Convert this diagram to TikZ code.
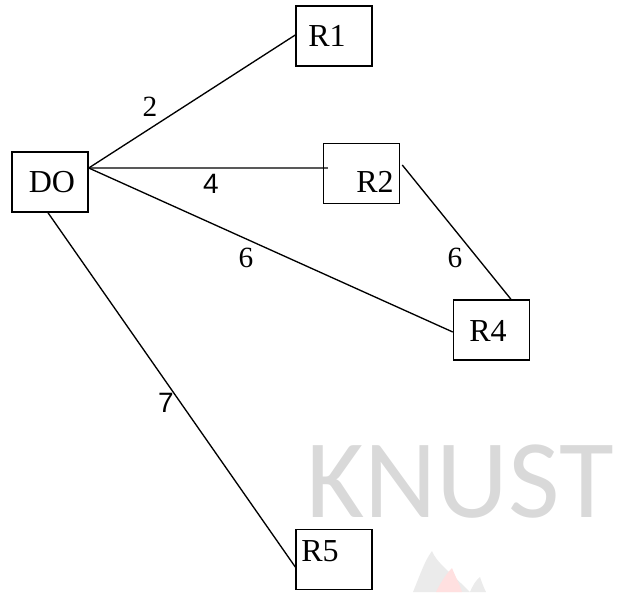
\documentclass[tikz,border=0pt]{standalone}
\usepackage{fontspec}
\setmainfont{Liberation Serif}
\newfontfamily\digitsans{Liberation Sans}
\newfontfamily\markfont{Carlito}
\begin{document}
\begin{tikzpicture}[x=0.75pt,y=-0.75pt,
  box/.style={draw,line width=1.1pt,minimum width=57pt,minimum height=45pt,inner sep=0pt},
  boxtext/.style={font=\fontsize{24}{24}\selectfont,inner sep=0pt},
  weight/.style={font=\fontsize{22}{22}\selectfont,inner sep=0pt},
  link/.style={line width=1pt}]
\useasboundingbox (0,0) rectangle (627,592);

% faint watermark
\node[anchor=base west,inner sep=0pt,text depth=0pt,text=black!15,font=\markfont\fontsize{84}{84}\selectfont] (mark) at (306,517) {KNUST};
\fill[black!8] (413,592) .. controls (420,575) and (425,560) .. (432,551) .. controls (436,562) and (450,572) .. (470,592) -- cycle;
\fill[red!12] (436,592) .. controls (442,580) and (448,572) .. (452,568) .. controls (456,578) and (460,585) .. (462,592) -- cycle;
\fill[black!8] (470,592) .. controls (473,585) and (476,580) .. (480,577) .. controls (482,583) and (484,588) .. (486,592) -- cycle;

% boxes
\node[box] (DO) at (50,182) {};
\node[box] (R1) at (334,36) {};
\node[box] (R2) at (361.5,173.5) {};
\node[box] (R4) at (491.5,330) {};
\node[box] (R5) at (334,559.5) {};

% box captions
\node[boxtext] (tDO) at (52,182) {DO};
\node[boxtext] (tR1) at (327,36) {R1};
\node[boxtext] (tR2) at (375,182) {R2};
\node[boxtext] (tR4) at (488,331) {R4};
\node[boxtext] (tR5) at (320,551) {R5};

% links
\draw[link] ([yshift=10.5pt]DO.east) -- ([yshift=0.75pt]R1.west);
\draw[link] ([yshift=10.5pt]DO.east) -- ([xshift=3.75pt,yshift=4.1pt]R2.west);
\draw[link] ([yshift=10.5pt]DO.east) -- ([yshift=-1.5pt]R4.west);
\draw[link] ([yshift=6.4pt,xshift=1.5pt]R2.east) -- ([xshift=14.6pt]R4.north);
\draw[link] ([xshift=-1.5pt]DO.south) -- ([yshift=-5.6pt]R5.west);

% link weights
\node[weight] (w2) at (150,107) {2};
\node[weight,font=\digitsans\fontsize{21}{21}\selectfont] (w4) at (211,184) {4};
\node[weight] (w6a) at (246,258) {6};
\node[weight] (w6b) at (455,258) {6};
\node[weight,font=\digitsans\fontsize{21}{21}\selectfont] (w7) at (166,403) {7};
\end{tikzpicture}
\end{document}
